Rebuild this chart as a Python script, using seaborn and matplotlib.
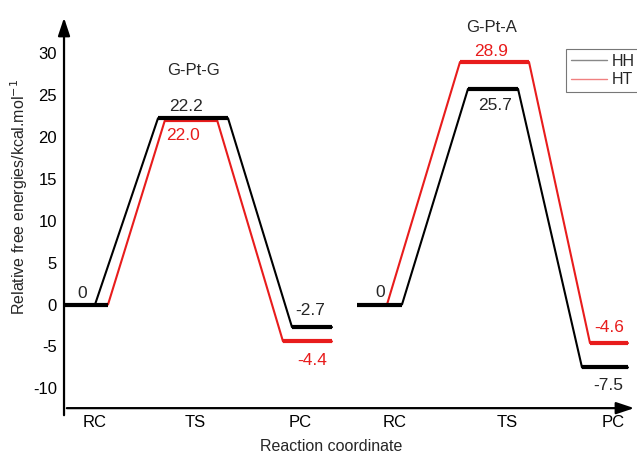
import pandas as pd
import seaborn as sns
import matplotlib.pyplot as plt
from matplotlib.lines import Line2D

# energies (kcal/mol)
states = ["RC", "TS", "PC"]
gptg_hh = [0, 22.2, -2.7]
gptg_ht = [0, 22.0, -4.4]
gpta_hh = [0, 25.7, -7.5]
gpta_ht = [0, 28.9, -4.6]
tick_labels = ["RC", "TS", "PC", "RC", "TS", "PC"]

sns.set_theme(style="white")
plt.rcParams["font.family"] = ["Liberation Sans", "DejaVu Sans"]
plt.rcParams["axes.unicode_minus"] = False

# x-layout of each path: slope start, TS bar left/right, PC bar left/right
layout = {
    ("G-Pt-G", "HH"): [0.31, 0.94, 1.64, 2.28, 2.68],
    ("G-Pt-G", "HT"): [0.44, 1.01, 1.53, 2.19, 2.68],
    ("G-Pt-A", "HH"): [3.38, 4.04, 4.54, 5.18, 5.64],
    ("G-Pt-A", "HT"): [3.23, 3.96, 4.65, 5.26, 5.64],
}
rc_bars = {"G-Pt-G": (0.0, 0.44), "G-Pt-A": (2.93, 3.38)}
energies = {
    ("G-Pt-G", "HH"): gptg_hh,
    ("G-Pt-G", "HT"): gptg_ht,
    ("G-Pt-A", "HH"): gpta_hh,
    ("G-Pt-A", "HT"): gpta_ht,
}
colors = {"HH": "black", "HT": "#e81c1c"}

rows = []
for (cplx, form), xs in layout.items():
    e = energies[(cplx, form)]
    ys = [e[0], e[1], e[1], e[2], e[2]]
    for i, (x, y) in enumerate(zip(xs, ys)):
        rows.append({"complex": cplx, "form": form, "x": x, "E": y, "order": i})
df = pd.DataFrame(rows)
df["path"] = df["complex"] + "_" + df["form"]

fig = plt.figure(figsize=(6.37, 4.54), dpi=100)
ax = fig.add_axes([0.1005, 0.101, 0.8995, 0.866])

# thin connecting paths, HT first so HH sits on top
for form in ["HT", "HH"]:
    sub = df[df["form"] == form]
    sns.lineplot(data=sub, x="x", y="E", units="path", estimator=None, sort=False,
                 color=colors[form], lw=1.5, ax=ax, legend=False)

# thick level bars
for form in ["HT", "HH"]:
    for (cplx, f), xs in layout.items():
        if f != form:
            continue
        e = energies[(cplx, f)]
        ax.hlines(e[1], xs[1], xs[2], color=colors[form], lw=3)
        ax.hlines(e[2], xs[3], xs[4], color=colors[form], lw=3)
for cplx, (x0, x1) in rc_bars.items():
    ax.hlines(0, x0, x1, color="black", lw=3)

# value labels
fs = 12.5
red = colors["HT"]
ax.text(0.18, 0.45, "0", ha="center", va="bottom", fontsize=fs)
ax.text(1.22, gptg_hh[1] + 0.45, f"{gptg_hh[1]:.1f}", ha="center", va="bottom", fontsize=fs)
ax.text(1.19, gptg_ht[1] - 1.0, f"{gptg_ht[1]:.1f}", ha="center", va="top", fontsize=fs, color=red)
ax.text(2.46, gptg_hh[2] + 1.1, f"{gptg_hh[2]:.1f}", ha="center", va="bottom", fontsize=fs)
ax.text(2.48, gptg_ht[2] - 1.4, f"{gptg_ht[2]:.1f}", ha="center", va="top", fontsize=fs, color=red)
ax.text(3.16, 0.5, "0", ha="center", va="bottom", fontsize=fs)
ax.text(4.27, gpta_ht[1] + 0.35, f"{gpta_ht[1]:.1f}", ha="center", va="bottom", fontsize=fs, color=red)
ax.text(4.31, gpta_hh[1] - 1.1, f"{gpta_hh[1]:.1f}", ha="center", va="top", fontsize=fs)
ax.text(5.45, gpta_ht[2] + 1.0, f"{gpta_ht[2]:.1f}", ha="center", va="bottom", fontsize=fs, color=red)
ax.text(5.44, gpta_hh[2] - 1.2, f"{gpta_hh[2]:.1f}", ha="center", va="top", fontsize=fs)

ax.text(1.29, 27.85, "G-Pt-G", ha="center", va="center", fontsize=12)
ax.text(4.28, 33.0, "G-Pt-A", ha="center", va="center", fontsize=12)

# axes, arrows
ax.set_xlim(0, 5.73)
ax.set_ylim(-12.35, 34.5)
for s in ax.spines.values():
    s.set_visible(False)
ax.annotate("", xy=(0, 1.0), xytext=(0, -0.025), xycoords="axes fraction",
            arrowprops=dict(arrowstyle="-|>,head_length=0.9,head_width=0.3", color="black", lw=1.6))
ax.annotate("", xy=(1.0, 0), xytext=(0, 0), xycoords="axes fraction",
            arrowprops=dict(arrowstyle="-|>,head_length=0.9,head_width=0.3", color="black", lw=1.6))

ax.set_xticks([0.31, 1.31, 2.36, 3.31, 4.43, 5.49])
ax.set_xticklabels(tick_labels)
ax.set_yticks([-10, -5, 0, 5, 10, 15, 20, 25, 30])
ax.tick_params(axis="both", length=0, labelsize=12, pad=5, colors="black")
ax.set_xlabel("Reaction coordinate", fontsize=11.5, va="top")
ax.set_ylabel("Relative free energies/kcal.mol$^{-1}$", fontsize=11.5)
ax.xaxis.set_label_coords(0.466, -0.079)
ax.yaxis.set_label_coords(-0.059, 0.537)

# legend
handles = [Line2D([], [], color="#888888", lw=1), Line2D([], [], color="#f08080", lw=1)]
leg = ax.legend(handles, ["HH", "HT"], loc="upper left", bbox_to_anchor=(0.876, 0.913),
                borderaxespad=0, fancybox=False, framealpha=1, edgecolor="#777777",
                fontsize=11.5, handlelength=2.3, handletextpad=0.25, labelspacing=0.2,
                borderpad=0.3)
leg.get_frame().set_linewidth(0.8)

fig.savefig("out.png", dpi=100)
